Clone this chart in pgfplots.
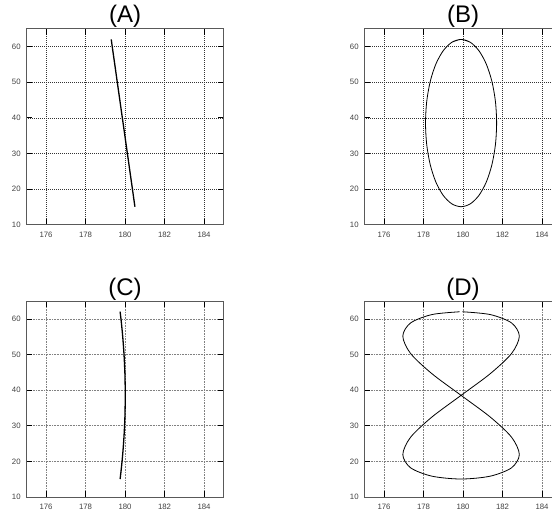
\documentclass[border=0pt]{standalone}
\usepackage{fontspec}
\setmainfont{Liberation Sans}
\usepackage{pgfplots}
\pgfplotsset{compat=1.18}

\pgfplotsset{
  lis/.style={
    scale only axis,
    width=197.5pt, height=195.8pt,
    xmin=175, xmax=185, ymin=10, ymax=65,
    xtick={176,178,...,184}, ytick={10,20,...,60},
    grid=major,
    tick align=inside,
    major tick length=6pt,
    axis line style={draw=black!65, line width=0.9pt},
    tick style={black, line width=0.9pt},
    /pgf/number format/assume math mode=true,
    ticklabel style={font=\fontsize{7.8}{8}\selectfont, text=black!75},
    xticklabel style={anchor=base, inner sep=0pt, yshift=-12.6pt},
    yticklabel style={anchor=east, inner sep=0pt, xshift=-5.5pt},
    title style={at={(0.5,1)}, anchor=base, inner sep=0pt, yshift=0.2pt,
      font=\fontsize{24}{24}\selectfont},
  },
  darkgrid/.style={major grid style={black!80, line width=0.6pt, dash pattern=on 0.9pt off 1.1pt}},
  lightgrid/.style={major grid style={black!50, line width=0.7pt, dash pattern=on 0.9pt off 0.7pt}},
}

\begin{document}
\begin{tikzpicture}
\useasboundingbox (0,0) rectangle (552pt,516pt);

% (A)
\begin{axis}[lis, darkgrid, at={(26.3pt,291.3pt)}, anchor=south west, title={(A)}]
  \addplot[black, line width=1.3pt] coordinates {(179.3,62.05) (180.5,15.05)};
\end{axis}

% (B)
\begin{axis}[lis, darkgrid, at={(364.3pt,291.3pt)}, anchor=south west, title={(B)}]
  \addplot[black, line width=0.8pt, smooth] coordinates {
    (179.434,61.25) (179.9,62.05) (180.366,61.25) (180.8,58.90) (181.173,55.17)
    (181.459,50.30) (181.639,44.63) (181.7,38.55) (181.639,32.47) (181.459,26.80)
    (181.173,21.93) (180.8,18.20) (180.366,15.85) (179.9,15.05) (179.434,15.85)
    (179.0,18.20) (178.627,21.93) (178.341,26.80) (178.161,32.47) (178.1,38.55)
    (178.161,44.63) (178.341,50.30) (178.627,55.17) (179.0,58.90) (179.434,61.25)
    (179.9,62.05) (180.366,61.25)
  };
\end{axis}

% (C)
\begin{axis}[lis, lightgrid, at={(26.3pt,19pt)}, anchor=south west, title={(C)}]
  \addplot[black, line width=1.3pt, smooth] coordinates {
    (179.75,62.05) (179.767,61.25) (179.815,58.90) (179.88,55.17) (179.945,50.30)
    (179.993,44.63) (180.01,38.55) (179.993,32.47) (179.945,26.80) (179.88,21.93)
    (179.815,18.20) (179.767,15.85) (179.75,15.05)
  };
\end{axis}

% (D)
\begin{axis}[lis, lightgrid, at={(364.3pt,19pt)}, anchor=south west, title={(D)}]
  \addplot[black, line width=0.8pt, smooth] coordinates {
    (179.97,62.03) (181.375,61.25) (182.455,58.90) (182.85,55.17) (182.455,50.30)
    (181.375,44.63) (179.9,38.55) (178.425,32.47) (177.345,26.80) (176.95,21.93)
    (177.345,18.20) (178.425,15.85) (179.9,15.05) (181.375,15.85) (182.455,18.20)
    (182.85,21.93) (182.455,26.80) (181.375,32.47) (179.9,38.55) (178.425,44.63)
    (177.345,50.30) (176.95,55.17) (177.345,58.90) (178.425,61.25) (179.83,62.03)
  };
\end{axis}
\end{tikzpicture}
\end{document}
